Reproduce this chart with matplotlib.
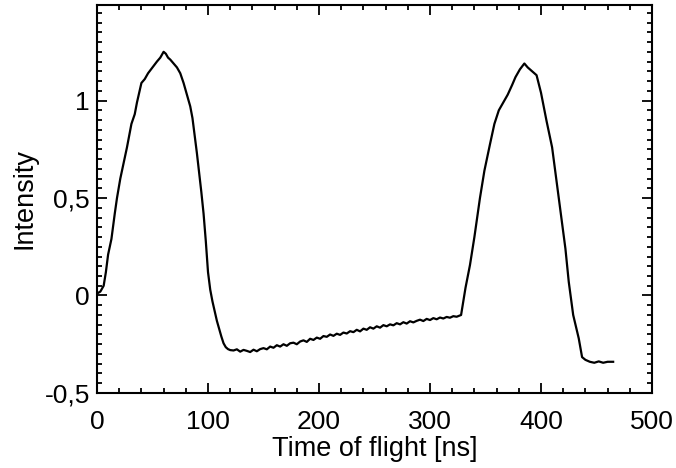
import numpy as np
import matplotlib
matplotlib.use("Agg")
import matplotlib.pyplot as plt
from matplotlib.ticker import MultipleLocator, FuncFormatter

plt.rcParams['font.family'] = ['Liberation Sans', 'DejaVu Sans']

# first pulse
t_peak1 = [0, 3, 6, 8, 10, 13, 16, 18, 21, 24, 27, 29, 31, 34, 36, 38, 40, 43, 46,
           50, 54, 57, 60, 62, 64, 66, 69, 72, 75, 78, 81, 84, 86, 88, 90, 92, 94,
           96, 98, 100, 102, 104, 106, 108, 110, 112, 114, 116, 118]
i_peak1 = [0.01, 0.02, 0.05, 0.12, 0.21, 0.29, 0.42, 0.50, 0.60, 0.68, 0.76, 0.82,
           0.88, 0.93, 0.99, 1.04, 1.09, 1.11, 1.14, 1.17, 1.20, 1.22, 1.25, 1.24,
           1.22, 1.21, 1.19, 1.17, 1.14, 1.09, 1.03, 0.97, 0.91, 0.82, 0.73, 0.63,
           0.53, 0.42, 0.28, 0.12, 0.03, -0.03, -0.08, -0.13, -0.17, -0.21, -0.245,
           -0.265, -0.275]

# slow baseline between the pulses
t_base = [120, 123, 126, 129, 132, 135, 138, 141, 144, 147, 150, 153, 156, 159, 162,
          165, 168, 171, 174, 177, 180, 183, 186, 189, 192, 195, 198, 201, 204, 207,
          210, 213, 216, 219, 222, 225, 228, 231, 234, 237, 240, 243, 246, 249, 252,
          255, 258, 261, 264, 267, 270, 273, 276, 279, 282, 285, 288, 291, 294, 297,
          300, 303, 306, 309, 312, 315, 318, 321, 324, 328]
i_base = [-0.28, -0.282, -0.276, -0.288, -0.279, -0.284, -0.29, -0.278, -0.286, -0.275,
          -0.27, -0.276, -0.262, -0.268, -0.255, -0.262, -0.25, -0.258, -0.245, -0.242,
          -0.25, -0.236, -0.23, -0.238, -0.222, -0.228, -0.216, -0.222, -0.208, -0.212,
          -0.2, -0.207, -0.196, -0.202, -0.19, -0.195, -0.183, -0.188, -0.176, -0.184,
          -0.17, -0.176, -0.163, -0.17, -0.158, -0.165, -0.152, -0.158, -0.148, -0.153,
          -0.142, -0.148, -0.137, -0.144, -0.132, -0.138, -0.13, -0.124, -0.131, -0.12,
          -0.126, -0.116, -0.122, -0.113, -0.118, -0.11, -0.114, -0.106, -0.109, -0.1]

# second pulse
t_peak2 = [330, 332, 336, 340, 345, 349, 354, 358, 362, 365, 370, 374, 377, 381, 385,
           388, 392, 396, 400, 405, 410, 414, 418, 422, 425, 429, 434, 437, 440, 444,
           448, 452, 456, 460, 465]
i_peak2 = [-0.03, 0.04, 0.156, 0.30, 0.50, 0.64, 0.775, 0.88, 0.95, 0.98, 1.03, 1.08,
           1.12, 1.16, 1.19, 1.17, 1.15, 1.13, 1.04, 0.895, 0.76, 0.586, 0.41, 0.24,
           0.07, -0.10, -0.22, -0.316, -0.33, -0.34, -0.345, -0.338, -0.345, -0.34,
           -0.34]

t = np.array(t_peak1 + t_base + t_peak2)
intensity = np.array(i_peak1 + i_base + i_peak2)

fig = plt.figure(figsize=(6.76, 4.68), dpi=100)
ax = fig.add_axes([0.1435, 0.1603, 0.821, 0.829])
ax.plot(t, intensity, color='black', lw=1.6)

ax.set_xlim(0, 500)
ax.set_ylim(-0.5, 1.49)
ax.xaxis.set_major_locator(MultipleLocator(100))
ax.xaxis.set_minor_locator(MultipleLocator(20))
ax.set_yticks([-0.5, 0, 0.5, 1])
ax.yaxis.set_minor_locator(MultipleLocator(0.05))
ax.yaxis.set_major_formatter(FuncFormatter(lambda v, p: ('%g' % v).replace('.', ',')))

ax.tick_params(which='both', direction='in', top=True, right=True, width=1.3,
               labelsize=19)
ax.tick_params(axis='x', pad=12)
ax.tick_params(axis='y', pad=5)
ax.tick_params(which='major', length=7)
ax.tick_params(which='minor', length=3.5)
for s in ax.spines.values():
    s.set_linewidth(1.5)

ax.set_xlabel('Time of flight [ns]', fontsize=19.5, labelpad=2)
ax.set_ylabel('Intensity', fontsize=19.5, labelpad=5)

fig.savefig('out.png', dpi=100)
